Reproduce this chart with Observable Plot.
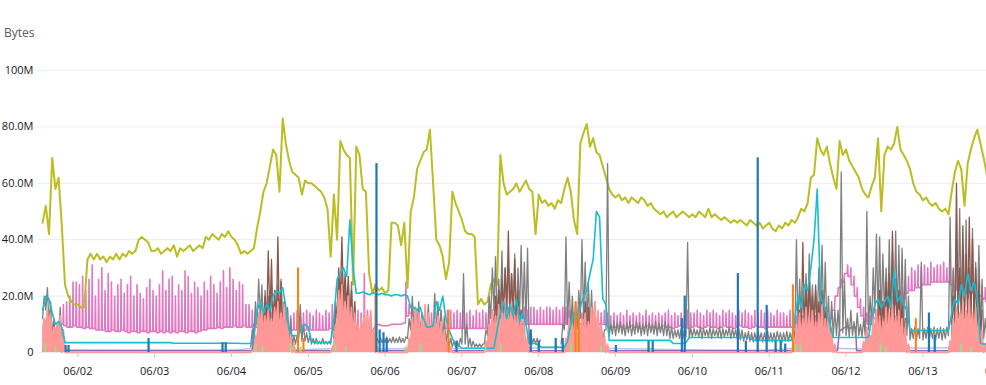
<!DOCTYPE html>
<html>
<head>
<meta charset="utf-8">
<script src="https://cdn.jsdelivr.net/npm/d3@7"></script>
<script src="https://cdn.jsdelivr.net/npm/@observablehq/plot@0.6"></script>
<style>
  html, body { margin: 0; padding: 0; background: #fff; overflow: hidden; width: 986px; height: 385px; }
  #unit { height: 42px; position: relative; }
  #unit span { position: absolute; left: 4px; top: 24px; font: 12px "Open Sans", sans-serif; color: #545b64; }
  #chart { width: 1012px; }
  #chart svg { display: block; max-width: none !important; width: 1012px !important; height: 343px !important; }
</style>
</head>
<body>
<div id="unit"><span>Bytes</span></div>
<div id="chart"></div>
<script>
const _ = null;
// hourly samples starting 06/01 13:00 (values in MB); rows = days
const startTime = "2024-06-01T13:00:00Z";
const xTickDays = ["2024-06-02","2024-06-03","2024-06-04","2024-06-05","2024-06-06","2024-06-07","2024-06-08","2024-06-09","2024-06-10","2024-06-11","2024-06-12","2024-06-13","2024-06-14"];
const yTicks = [0, 20, 40, 60, 80, 100];
const yTickLabels = ["0", "20.0M", "40.0M", "60.0M", "80.0M", "100M"];

const olive = [
46,52,42,69,58,62,45,24,20,18,17,
17,16,16,33,35,33,35,33,34,32,34,33,35,33,35,34,36,35,36,40,41,40,39,36,
36,37,35,36,37,36,38,34,37,36,37,38,36,37,38,37,41,40,42,41,40,42,41,43,
41,40,38,35,36,35,36,37,44,50,57,60,66,72,70,57,83,74,68,64,63,62,56,61,
60,60,59,58,57,55,51,34,56,40,75,72,70,69,24,73,70,58,57,28,21,24,22,23,
21,22,46,46,45,38,46,23,50,55,65,68,71,72,79,60,40,38,34,26,32,57,53,50,
47,43,42,42,41,17,19,17,18,24,26,24,70,60,56,57,58,60,57,59,61,58,57,42,
56,53,54,52,53,51,54,53,58,62,57,47,42,74,78,81,73,76,71,70,66,62,58,56,
55,56,54,55,53,55,54,53,55,54,52,53,51,50,49,50,48,49,50,48,49,50,49,48,
49,48,50,49,48,51,48,49,48,47,48,47,46,47,46,47,46,45,47,46,45,46,44,45,
46,44,43,45,44,46,45,47,46,48,51,50,53,62,63,76,72,70,73,67,62,58,75,70,
72,68,66,64,62,58,56,55,59,62,76,50,70,73,72,74,80,72,70,68,65,60,57,56,
54,55,53,52,53,51,50,51,49,57,64,68,65,52,67,72,76,79,74,69,63,62,61,60
];

const pinkBase = [
_,_,_,_,_,_,10,9.5,9,9,9.5,
9,9,8.5,9,8.5,8.5,8,8,8,7.5,7.5,8,7.5,7.5,8,7.5,7,7.5,7.5,7,7.5,7.5,7,7.5,
7.5,7,7.5,7,7.5,7,7.5,7,7.5,7.5,7,7.5,7.5,7,7.5,8,8,8.5,8.5,8.5,9,8.5,9,9,
9,9.5,9,9,9.5,9,9,9,9,9,9,9,9,9,9,9,8.5,8.5,8,8,8,8,8,8,
8,8,8,8,8,8,8,8.5,8,8,8,8,8,8,8,8,8,8,8,8,7.5,9.5,10,9.5,
9.5,9.5,10,10,10,10,10.5,13,14,13,12,8.5,8.5,8.5,8.5,8.5,8.5,8.5,8.5,8.5,8.5,8.5,8.5,8.5,
8.5,8.5,8.5,8.5,8.5,8.5,8.5,8.5,8.5,8.5,8.5,8.5,10,10,10,10,10,10,10,10,10,10,10,10,
10,10,10,10,10,10,10,10,10,10,10,10,10,10,10,10,10,10,10,10,10,10,9,9,
9,9.5,9,8.5,9,9.5,9,9,8.5,9,9.5,9,9,8.5,9,9.5,9,9,8.5,9,9.5,9,9,8.5,
9,9.5,9,8.5,9,9.5,9,9,8.5,9,9.5,9,9,8.5,9,9.5,9,9,8.5,9,9.5,9,9,8.5,
9,9,9,9,9,9,9,9,9,9,9,9,9,9,9,9,9,9,9,12,15,20,23,25,
28,27,24,20,16,13,11,10,11,12,13,14,15,16,16,17,18,19,19,21,22,22,23,23,
24,24,24,25,25,25,25,25,25,24,23,22,22,22,21,21,21,20,20,19,18,18,18,18
];
const pinkPeak = [
_,_,_,_,_,_,17,18,20,25,25,
24,27,22,26,31,20,26,30,22,28,25,20,24,26,21,24,27,20,24,21,19,23,26,22,
20,24,29,22,26,27,20,24,22,29,27,21,25,23,20,25,22,27,24,21,25,29,23,30,
26,22,25,24,17,17,15,14,14,14,14,14,14,14,14,13,14,15,13,14,15,13,14,15,
14,13,15,14,13,15,14,17,13,13,13,13,13,13,13,15,14,28,15,14,_,_,_,_,
_,_,_,_,_,_,25,17,16,15,15,14,15,13,14,15,14,15,13,15,15,14,15,14,
15,14,15,13,15,14,15,14,15,15,16,15,16,15,16,15,16,16,15,16,15,16,16,15,
16,15,16,16,15,16,15,16,16,15,16,15,16,14,14,14,14,14,14,14,15,14,13,14,
13,14,13,15,13,14,13,14,13,15,13,14,13,14,13,14,15,13,14,13,14,13,15,14,
14,15,14,13,15,14,15,14,13,15,14,15,14,13,15,14,15,14,13,15,14,15,14,15,
14,13,15,14,14,13,15,14,13,14,13,14,13,14,13,14,15,14,13,15,18,22,26,28,
31,30,27,23,19,16,14,13,14,15,17,18,19,20,20,21,22,23,24,27,30,29,31,30,
31,30,32,30,31,31,32,30,31,29,27,26,27,26,25,26,25,24,24,23,22,21,21,21
];

const cyan = [
15,20,19,14,10,11,9,3.5,3.5,3.5,3.5,
3.5,3.5,3.5,3.5,3.5,3.5,3.5,3.5,3.5,3.5,3.5,3.5,3.5,3.5,3.5,3.5,3.5,3.5,3.5,3.5,3.5,3.5,3.5,3.5,
3.5,3.5,3.5,3.5,3.5,3.5,3.3,3.3,3.3,3.3,3.3,3.3,3.3,3.3,3.3,3.3,3.3,3.3,3.3,3.3,3.3,3.3,3.3,3.3,
3.3,3.3,3.3,3.2,3.2,3.2,3.2,5,15,18,14,17,15,20,22,21,23,16,8,6,6,6,9,10,
9,4,3.5,3.5,3.5,3.5,3.5,3.5,12,26,28,30,27,47,30,21,21,21.5,21,20.5,21,21,20.5,21,
20.5,20.5,20,20.5,20.5,20,20.5,20,16,16,15,16,12,9,9,9.5,18,15,20,12,8,5,3,2.5,
1.5,1.5,1.5,1.5,1.5,1.5,1.5,1.5,1.5,1.5,1.5,8,14,18,12,17,13,19,11,14,10,3.2,3.2,3.2,
2.5,1.8,1.8,1.8,1.8,1.8,1.8,1.8,1.8,4,10,14,12,16,20,22,28,33,50,48,19,17,4.3,4.3,
4.3,4.3,4.3,4.3,4.3,4.3,4.3,4.3,4.3,4.3,4.3,4.3,4.3,4.3,4.3,4.3,4.3,4.3,3.2,3.2,3.2,3.2,3.5,5.3,
5.3,5.3,5.3,5.3,5.3,5.3,5.3,5.3,5.3,5.3,5.3,5.3,5.3,5.3,5.3,5.3,5.3,5.3,5.3,4.3,4.3,4.3,4.3,4.3,
4.3,4.3,4.3,4.3,4.3,4.3,4.3,4.3,12,20,16,24,22,30,40,58,20,17,14,10,5.3,5.3,5.3,5.3,
5.3,5.3,5.3,5.3,5.3,5.3,5.3,5.3,12,17,19,16,18,20,16,29,18,20,17,15,7.8,7.8,7.8,7.8,
7.8,7.8,7.8,7.8,7.8,7.8,7.8,7.8,7.8,14,19,17,24,20,28,22,25,19,3.2,3,3,3,3,3
];

const grayLo = [
12,15,10,6,5,7,3,_,_,_,_,
_,_,_,_,_,_,_,_,_,_,_,_,_,_,_,_,_,_,_,_,_,_,_,_,
_,_,_,_,_,_,_,_,_,_,_,_,_,_,_,_,_,_,_,_,_,_,_,_,
_,_,_,_,_,_,2,6,10,12,8,10,9,8,10,12,8,6,4,2,3,5,4,4,
3.5,3,3,3,3,3,3,3,8,12,10,12,10,8,6,4,3.5,3.5,3.5,3.5,3.5,3.5,3.5,3.5,
3.5,3.5,3.5,3.5,3.5,3.5,3.5,5,8,7,8,6,5,6,4,8,7,6,4,3,2,2,2,2,
3,3,2,2,2,2,2,3,6,12,15,10,14,12,15,11,14,10,13,12,10,3,3,3,
3,_,_,_,_,_,_,3,8,10,8,6,8,12,12,10,8,6,5,4,3,8,6,6.5,
6,7,6.5,6,7,6,6.5,7,6,6.5,6,7,6.5,6,7,6,6,5,5,5.5,5,5,5.5,5,
5.5,6,5.5,5,6,5.5,5,6,5.5,5,5.5,6,5,5.5,5,4.5,4,4.5,4,3.8,4,4.5,3.8,4,
4,3.8,4,4.5,3.8,4,4,4.5,5,8,10,12,10,12,10,11,12,10,8,6,6,6,6,7,
6,5.5,6,5.5,6,5.5,6,8,10,14,12,10,14,12,10,14,12,10,9,6,4.5,5,4.5,5,
4.5,5,4.5,5,4.5,5,4.5,5,6,10,12,14,10,14,12,12,10,10,6,5,5,5,5,5
];
const grayHi = [
20,23,18,12,10,16,8,_,_,_,_,
_,_,_,_,_,_,_,_,_,_,_,_,_,_,_,_,_,_,_,_,_,_,_,_,
_,_,_,_,_,_,_,_,_,_,_,_,_,_,_,_,_,_,_,_,_,_,_,_,
_,_,_,_,_,_,8,18,26,24,22,20,23,19,24,26,18,16,12,6,6,17,10,7,
6,5,5,4,5,4,4,8,18,26,28,24,22,25,18,10,5.5,5,5.5,5,5.5,5,5.5,5,
5.5,5,5.5,5,5.5,5,5.5,12,20,16,18,14,12,17,10,21,18,15,12,8,5,4,4,5,
28,10,5,4,3,3,3,8,20,30,34,26,36,30,33,28,35,30,38,32,37,8,5,5,
4.5,_,_,_,_,_,_,10,41,25,20,18,22,40,32,25,22,18,14,10,8,67,10,11,
10.5,11,10,10.5,11,10,11,10.5,10,11,10.5,10,11,10.5,10,11,10,9,8,8,8.5,8,39,8.5,
8.5,8,9,8.5,8,9,8.5,8,9,8.5,8,9,8.5,8,8.5,8,7,7.5,7,7,7.5,7,7,7.5,
7,7,7.5,7,7,7.5,7,8,40,26,22,28,35,24,22,30,38,32,20,18,15,15,64,26,
12,15,11,14,10,12,50,20,30,42,41,35,30,40,36,43,38,37,33,20,8.5,9,8.5,32,
8.5,9,8.5,9,8.5,9,8.5,9,48,30,40,51,35,47,30,44,32,38,26,12,8,8,8,8
];

const salmonLo = [
8,10,9,4,6,8,0,0,0,0,0,
0,0,0,0,0,0,0,0,0,0,0,0,0,0,0,0,0,0,0,0,0,0,0,0,
0,0,0,0,0,0,0,0,0,0,0,0,0,0,0,0,0,0,0,0,0,0,0,0,
0,0,0,0,0,0,0,1,5,7,6,8,6,8,9,7,8,5,2,0,0,0,0,0,
0,0,0,0,0,0,0,0,3,10,12,9,10,7,5,3,5,7,6,5,2,0,0,0,
0,0,0,0,0,0,0,0,4,6,5,4,6,5,3,5,5,4,2,1,0,0,0,0,
0,0,0,0,0,0,0,0,3,6,5,7,6,8,6,7,5,6,4,3,1,0,0,0,
0,0,0,0,0,0,0,0,0,4,3,5,3,5,6,4,6,7,5,3,2,0,0,0,
0,0,0,0,0,0,0,0,0,0,0,0,0,0,0,0,0,0,0,0,0,0,0,0,
0,0,0,0,0,0,0,0,0,0,0,0,0,0,0,0,0,0,0,0,0,0,0,0,
0,0,0,0,0,0,0,0,3,5,4,6,5,6,4,5,6,4,5,2,0,0,0,0,
0,0,0,0,0,0,2,1,4,6,5,4,6,5,7,5,6,4,2,0,0,0,0,0,
0,0,0,0,0,0,0,0,0,4,6,5,7,6,8,5,6,4,2,0,0,0,0,0
];
const salmonHi = [
12,15,14,9,10,13,8,_,_,_,_,
_,_,_,_,_,_,_,_,_,_,_,_,_,_,_,_,_,_,_,_,_,_,_,_,
_,_,_,_,_,_,_,_,_,_,_,_,_,_,_,_,_,_,_,_,_,_,_,_,
_,_,_,_,_,_,_,6,14,16,13,15,12,16,18,14,17,12,6,3,_,_,_,_,
_,_,_,_,_,_,_,_,10,22,24,18,20,16,14,10,12,15,13,15,8,2,_,_,
_,_,_,_,_,_,_,5,12,16,14,12,17,14,10,15,13,11,8,4,2,_,_,_,
_,_,_,_,_,_,_,4,10,15,13,17,14,19,15,18,13,16,12,10,6,2,_,_,
_,_,_,_,_,_,_,_,5,12,10,13,9,12,14,11,16,18,15,10,6,3,_,_,
_,_,_,_,_,_,_,_,_,_,_,_,_,_,_,_,_,_,_,_,_,_,_,_,
_,_,_,_,_,_,_,_,_,_,_,_,_,_,_,_,_,_,_,_,_,_,_,_,
_,_,_,_,_,_,_,3,10,14,12,16,13,15,11,14,17,12,13,8,3,_,_,_,
_,_,_,_,_,4,9,6,12,15,13,11,16,14,17,13,15,12,9,3,_,_,_,_,
_,_,_,_,_,_,_,_,4,12,16,14,18,15,19,14,16,12,8,3,2,2,2,2
];

// brown bursts: starting hour index and hourly low / high readings
const brownStart = [1, 67, 91, 140, 168, 236, 260, 284];
const brownHi = [
  [12,14,10],
  [10,15,20,36,33,22,41,25,18,10],
  [15,30,41,28,27,22,18,8],
  [15,20,22,26,30,43,28,33,22,15,10],
  [12,18,16,12],
  [15,39,22,25,20,24,18,22,16,12],
  [15,22,18,25,28,43,26,22,18,12],
  [20,60,30,45,35,48,40,30,25,15]
];
const brownLo = [
  [5,6,4],
  [3,6,8,10,12,9,10,8,5,3],
  [5,14,18,17,16,12,6,3],
  [5,8,10,12,14,14,12,11,8,5,3],
  [5,7,6,4],
  [4,8,8,9,8,9,7,8,6,4],
  [5,7,6,8,9,10,9,8,6,4],
  [6,10,12,14,12,14,12,10,8,5]
];

// spikes: hour offset from start, peak value
const blueHours  = [7.2,8.1,33.1,56.2,57.2,104.3,105.3,106.5,107.5,129.3,152.5,155,160.3,162.5,179.1,189.3,190.6,199.7,200.6,217.2,219.7,223.4,226.2,229,230.6,232,276.9,278.7];
const blueValues = [2.5,2.5,5,3.5,3.5,67,8,7,5,4,8,4,5,5,2.5,4,4,12,20,28,4,69,16.7,4,4,3,14,6];
const orangeHours  = [79.8, 81.5, 104.0, 126.8, 166.5, 167.5, 234.4, 272.8];
const orangeValues = [30, 5, 24, 15, 18, 14, 24, 12];
const greenHours  = [0.9,4.0,66.6,68.7,77.5,80.6,91.5,94.7,113.4,118.1,138.4,143.1,165,166.6,174.4,190,235.3,236.8,261.8,263.4,286.9,290];
const greenValues = [3,2,3,2,3,2,3,2,2,3,2,3,3,4,2,1.5,3,2.5,3,2,3,2];
const purpleHours  = [0,5.5,6.5,65.5,65.8,66.1,248.3,248.9,250,251,252,253,254,254.3,298];
const purpleValues = [0.6,1.5,0.6,0.6,10,0.6,0.6,7.5,8.5,9,8.5,9,9,0.6,0.6];
const lightBlueHours  = [0,30,60,66,72,80,95,105,140,150,165,175,200,225,240,255,265,275,285,298];
const lightBlueValues = [1,0.9,0.9,1.5,2,1,1.5,1.2,1.5,1.5,2,1.5,1,0.8,1.8,1.2,1.8,1.5,1.8,1.2];

// ---- build tables ----
const T0 = new Date(startTime).getTime();
const HOUR = 3600000;
const at = h => new Date(T0 + h * HOUR);

function interleave(lo, hi) {
  const out = [];
  for (let h = 0; h < lo.length; h++) {
    out.push({t: at(h), v: lo[h]});
    if (hi[h] != null) out.push({t: at(h + 0.5), v: hi[h]});
  }
  return out;
}
// narrow spikes: the base reading is held until just before each peak
function spikes(base, peak) {
  const out = [];
  for (let h = 0; h < base.length; h++) {
    out.push({t: at(h), v: base[h]});
    if (peak[h] != null && base[h] != null) {
      const next = base[h + 1] != null ? base[h + 1] : base[h];
      out.push({t: at(h + 0.38), v: base[h]});
      out.push({t: at(h + 0.5), v: peak[h]});
      out.push({t: at(h + 0.62), v: next});
    }
  }
  return out;
}
const series = arr => arr.map((v, h) => ({t: at(h), v}));
const pts = (hours, vals) => hours.map((h, i) => ({t: at(h), v: vals[i]}));

const olivePts = series(olive);
const cyanPts = series(cyan);
const pinkPts = spikes(pinkBase, pinkPeak);
const grayPts = interleave(grayLo, grayHi);
const salmonPts = interleave(salmonLo, salmonHi);
const brownPts = [];
brownStart.forEach((s, b) => {
  brownLo[b].forEach((lo, k) => {
    brownPts.push({t: at(s + k), v: lo, b});
    brownPts.push({t: at(s + k + 0.5), v: brownHi[b][k], b});
  });
});
const bluePts = pts(blueHours, blueValues);
const orangePts = pts(orangeHours, orangeValues);
const greenPts = pts(greenHours, greenValues);
const purplePts = pts(purpleHours, purpleValues);
const lightBluePts = pts(lightBlueHours, lightBlueValues);

const xTicks = xTickDays.map(d => new Date(d + "T00:00:00Z"));
const yLabel = new Map(yTicks.map((v, i) => [v, yTickLabels[i]]));
const fmt = d3.utcFormat("%m/%d");

const chart = Plot.plot({
  width: 1012,
  height: 343,
  marginLeft: 38,
  marginRight: 0,
  marginTop: 28,
  marginBottom: 33,
  style: {fontFamily: "'Open Sans', sans-serif", fontSize: "11px", color: "#16191f", background: "#fff", maxWidth: "none"},
  x: {type: "utc", domain: [new Date(Date.UTC(2024, 5, 1, 11, 43)), new Date(Date.UTC(2024, 5, 14, 4, 0))]},
  y: {domain: [0, 100]},
  marks: [
    Plot.gridY(yTicks, {stroke: "#e9ebed", strokeOpacity: 1}),
    Plot.line(lightBluePts, {x: "t", y: "v", stroke: "#aec7e8", strokeWidth: 1.5}),
    Plot.line(purplePts, {x: "t", y: "v", stroke: "#9467bd", strokeWidth: 1.5}),
    Plot.line(pinkPts, {x: "t", y: "v", stroke: "#e377c2", strokeWidth: 1.6}),
    Plot.line(olivePts, {x: "t", y: "v", stroke: "#bcbd22", strokeWidth: 2}),
    Plot.line(grayPts, {x: "t", y: "v", stroke: "#7f7f7f", strokeWidth: 1.3}),
    Plot.line(brownPts, {x: "t", y: "v", z: "b", stroke: "#8c564b", strokeWidth: 1.3}),
    Plot.areaY(salmonPts, {x: "t", y: "v", fill: "#ff9896"}),
    Plot.line(salmonPts, {x: "t", y: "v", stroke: "#ff9896", strokeWidth: 1.6}),
    Plot.line(cyanPts, {x: "t", y: "v", stroke: "#17becf", strokeWidth: 1.6}),
    Plot.ruleX(greenPts, {x: "t", y1: 0, y2: "v", stroke: "#98df8a", strokeWidth: 2}),
    Plot.ruleX(orangePts, {x: "t", y1: 0, y2: "v", stroke: "#ff7f0e", strokeWidth: 2}),
    Plot.ruleX(bluePts, {x: "t", y1: 0, y2: "v", stroke: "#1f77b4", strokeWidth: 2.2}),
    Plot.axisX(xTicks, {tickFormat: fmt, tickSize: 5, tickPadding: 10, stroke: "#c6cacd", fill: "#16191f", label: null}),
    Plot.axisY(yTicks, {tickFormat: d => yLabel.get(d), tickSize: 0, tickPadding: 5, fill: "#16191f", label: null})
  ]
});
document.getElementById("chart").appendChild(chart);
</script>
</body>
</html>
